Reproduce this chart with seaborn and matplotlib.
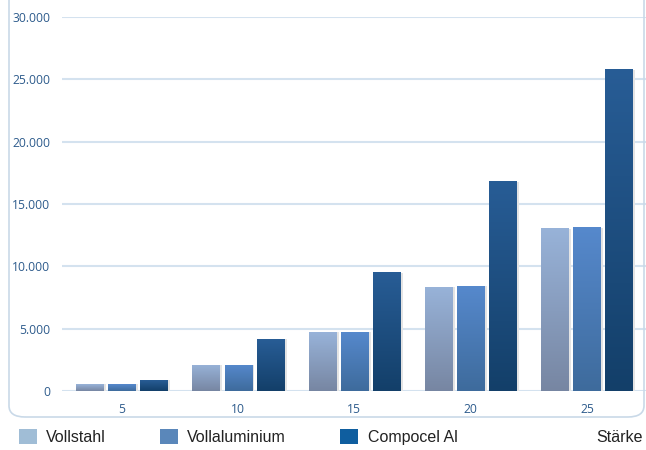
import numpy as np
import pandas as pd
import matplotlib
matplotlib.use("Agg")
import matplotlib.pyplot as plt
import matplotlib.colors as mcolors
from matplotlib.patches import Rectangle, FancyBboxPatch
import seaborn as sns

# Werte
staerke = ["5", "10", "15", "20", "25"]
vollstahl = [540, 2090, 4730, 8350, 13080]
vollaluminium = [550, 2100, 4750, 8430, 13160]
compocel = [860, 4170, 9550, 16850, 25850]
serien = ["Vollstahl", "Vollaluminium", "Compocel Al"]

df = pd.DataFrame({
    "staerke": staerke * 3,
    "wert": vollstahl + vollaluminium + compocel,
    "serie": [serien[0]] * 5 + [serien[1]] * 5 + [serien[2]] * 5,
})

legend_farben = ["#a0bdd6", "#5a87ba", "#0f5e9f"]
# Verlauf (oben, unten) je Serie
verlauf = [("#98b3d9", "#7786a2"), ("#5689cd", "#3e6b9c"), ("#285d96", "#133f69")]

sns.set_style("white")
plt.rcParams["font.family"] = ["Open Sans", "DejaVu Sans"]

fig = plt.figure(figsize=(6.46, 4.5), dpi=100)
ax = fig.add_axes([62 / 646, 1 - 391 / 450, 584 / 646, (391 - 17) / 450])

sns.barplot(data=df, x="staerke", y="wert", hue="serie", palette=legend_farben,
            width=0.83, gap=0.15, legend=False, ax=ax, saturation=1)

# Balken mit Farbverlauf und leichtem Schatten
for i, cont in enumerate(ax.containers):
    c_top, c_bot = verlauf[i]
    cmap = mcolors.LinearSegmentedColormap.from_list("g%d" % i, [c_bot, c_top])
    for p in cont.patches:
        x0, w, h = p.get_x(), p.get_width(), p.get_height()
        sh = Rectangle((x0 + w, 0), 0.022, h * 0.995, facecolor="#e4e4e4",
                       edgecolor="none", zorder=1)
        ax.add_patch(sh)
        grad = np.linspace(0, 1, 256).reshape(-1, 1)
        im = ax.imshow(grad, extent=(x0, x0 + w, 0, h), origin="lower", cmap=cmap,
                       aspect="auto", zorder=3)
        im.set_clip_path(p)
        p.set_facecolor("none")
        p.set_edgecolor("none")

ax.set_xlim(-0.516, 4.508)
ax.set_ylim(0, 30000)
ax.set_yticks(range(0, 30001, 5000))
ax.set_yticklabels([f"{v:,}".replace(",", ".") for v in range(0, 30001, 5000)])
ax.grid(axis="y", color="#d4e2ef", linewidth=1.5, zorder=0)
ax.set_axisbelow(True)
for s in ax.spines.values():
    s.set_visible(False)
ax.tick_params(axis="both", length=0, colors="#2d5b8c", labelsize=8.7)
ax.tick_params(axis="y", pad=8.5)
ax.tick_params(axis="x", pad=8.5)
ax.set_xlabel("")
ax.set_ylabel("")

# abgerundeter Rahmen links/unten/rechts
rahmen = FancyBboxPatch((9 / 646, 1 - 417 / 450), 635 / 646, 500 / 450,
                        boxstyle="round,pad=0,rounding_size=0.025",
                        transform=fig.transFigure, facecolor="none",
                        edgecolor="#c9d9e8", linewidth=1.2, zorder=0)
fig.patches.append(rahmen)

# Legende unten
handles = [Rectangle((0, 0), 1, 1, facecolor=c, edgecolor="none") for c in legend_farben]
fig.legend(handles, serien, loc="center left", bbox_to_anchor=(19 / 646, 1 - 437 / 450),
           ncol=3, frameon=False, handlelength=1.1, handleheight=1.1, handletextpad=0.6,
           columnspacing=3.4, borderpad=0, borderaxespad=0,
           prop={"family": "Liberation Sans", "size": 11.5}, labelcolor="#222222")
fig.text(643 / 646, 1 - 437 / 450, "Stärke", ha="right", va="center",
         family="Liberation Sans", fontsize=11.5, color="#222222")

fig.savefig("out.png", dpi=100)
